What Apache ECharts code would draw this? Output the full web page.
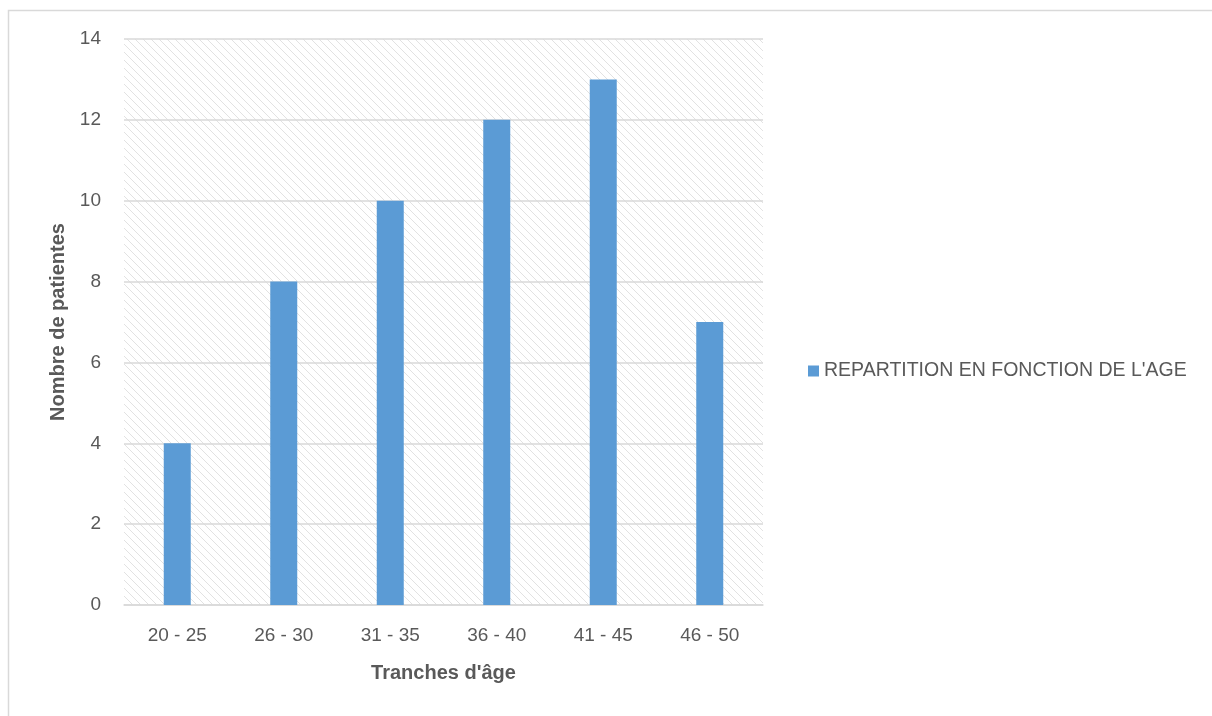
<!DOCTYPE html>
<html><head><meta charset="utf-8">
<script src="https://cdn.jsdelivr.net/npm/echarts@6/dist/echarts.min.js"></script>
<style>html,body{margin:0;padding:0;background:#fff}#c{width:1212px;height:716px}</style>
</head><body><div id="c"></div>
<script>
const categories = ['20 - 25', '26 - 30', '31 - 35', '36 - 40', '41 - 45', '46 - 50'];
const values = [4, 8, 10, 12, 13, 7];
const seriesName = "REPARTITION EN FONCTION DE L'AGE";
const yTicks = [0, 2, 4, 6, 8, 10, 12, 14];

// hatch pattern
const pc = document.createElement('canvas');
pc.width = 8; pc.height = 8;
const ctx = pc.getContext('2d');
ctx.fillStyle = '#ffffff'; ctx.fillRect(0, 0, 8, 8);
ctx.strokeStyle = '#e2e2e2'; ctx.lineWidth = 1;
ctx.beginPath(); ctx.moveTo(-1, -1); ctx.lineTo(9, 9); ctx.stroke();
ctx.beginPath(); ctx.moveTo(-1, 7); ctx.lineTo(1, 9); ctx.stroke();
ctx.beginPath(); ctx.moveTo(7, -1); ctx.lineTo(9, 1); ctx.stroke();

const font = 'Liberation Sans';
const chart = echarts.init(document.getElementById('c'), null, {renderer: 'canvas'});
chart.setOption({
  animation: false,
  backgroundColor: '#ffffff',
  graphic: [{
    type: 'rect', left: 6, top: 8, z: -10,
    shape: {width: 1220, height: 707},
    style: {fill: 'none', stroke: '#d9d9d9', lineWidth: 1.5}
  }],
  grid: {
    left: 124, top: 39, width: 639, height: 566,
    show: true, borderWidth: 0,
    backgroundColor: {image: pc, repeat: 'repeat'}
  },
  legend: {
    left: 803, top: 356,
    itemWidth: 11, itemHeight: 11, itemGap: 6,
    icon: 'rect',
    textStyle: {fontFamily: font, fontSize: 19.5, color: '#595959'},
    data: [seriesName]
  },
  xAxis: {
    type: 'category', data: categories,
    name: "Tranches d'âge", nameLocation: 'middle', nameGap: 58,
    nameTextStyle: {fontFamily: font, fontSize: 20, fontWeight: 'bold', color: '#595959'},
    axisLine: {lineStyle: {color: '#d9d9d9', width: 1.5}},
    axisTick: {show: false},
    axisLabel: {fontFamily: font, fontSize: 19, color: '#595959', margin: 21}
  },
  yAxis: {
    type: 'value', min: 0, max: 14, interval: 2,
    name: 'Nombre de patientes', nameLocation: 'middle', nameGap: 54,
    nameTextStyle: {fontFamily: font, fontSize: 20, fontWeight: 'bold', color: '#595959'},
    axisLine: {show: false}, axisTick: {show: false},
    axisLabel: {fontFamily: font, fontSize: 19, color: '#595959', margin: 23,
      formatter: v => yTicks.includes(v) ? String(v) : ''},
    splitLine: {lineStyle: {color: '#d9d9d9', width: 1.5}}
  },
  series: [{
    name: seriesName, type: 'bar', data: values, barWidth: 27,
    itemStyle: {color: '#5b9bd5'}
  }]
});
</script></body></html>
